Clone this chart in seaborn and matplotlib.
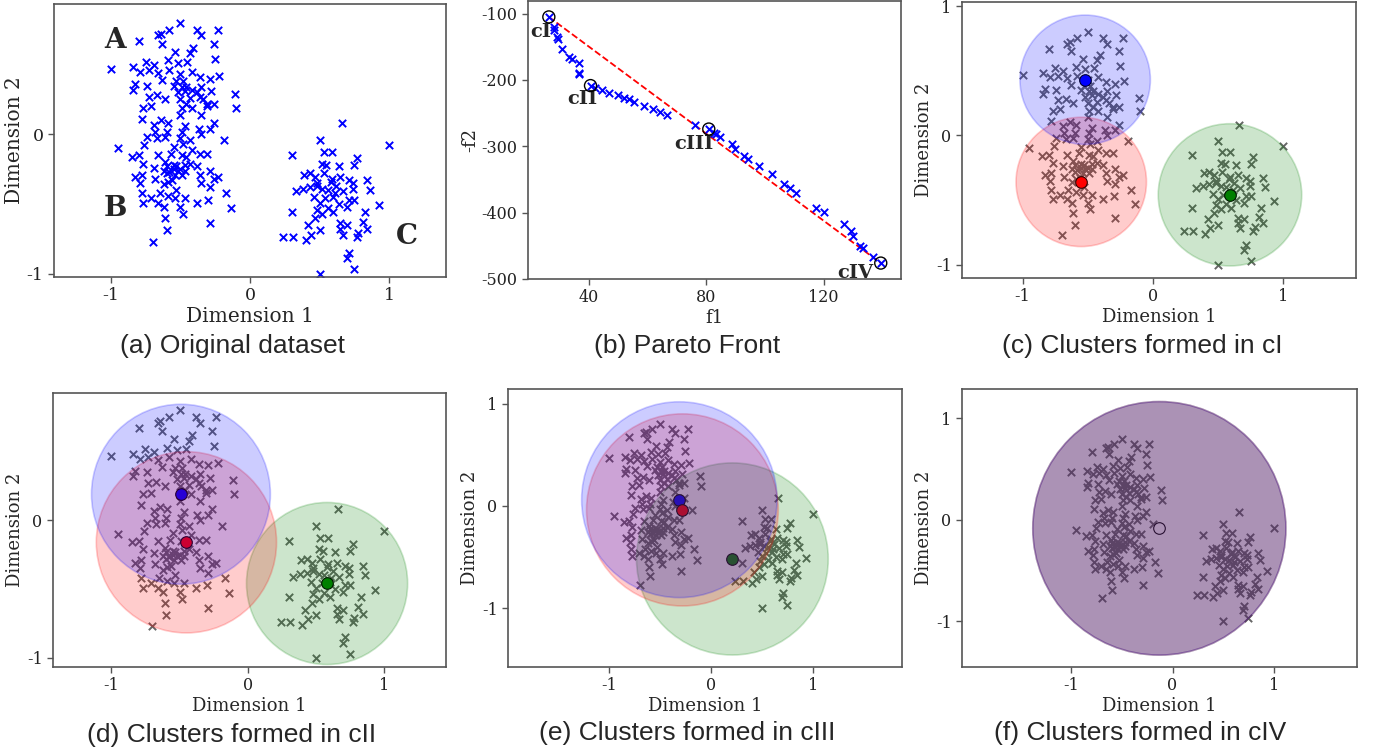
import numpy as np
import matplotlib
matplotlib.use("Agg")
import matplotlib.pyplot as plt
from matplotlib.patches import Circle
import seaborn as sns

sns.set_style("ticks")
plt.rcParams['font.family'] = ['DejaVu Serif']
plt.rcParams['axes.unicode_minus'] = False

# ---------------- data ----------------
# groups A/B (left blob)
ab_x = [-0.50,-0.23,-0.38,-0.35,-0.58,-0.64,-0.66,-0.80,-0.63,-0.26,
        -0.41,-0.54,-0.43,-0.25,-1.00,-0.84,-0.75,-0.69,-0.59,-0.52,
        -0.45,-0.79,-0.73,-0.66,-0.58,-0.50,-0.42,-0.36,-0.29,-0.22,
        -0.83,-0.84,-0.74,-0.63,-0.55,-0.48,-0.46,-0.35,-0.28,-0.11,
        -0.73,-0.67,-0.61,-0.52,-0.43,-0.36,-0.31,-0.26,-0.77,-0.71,
        -0.49,-0.42,-0.10,-0.50,-0.35,-0.78,-0.64,-0.69,-0.59,-0.47,
        -0.37,-0.26,-0.68,-0.60,-0.49,-0.35,-0.29,-0.74,-0.67,-0.61,
        -0.50,-0.43,-0.19,-0.95,-0.76,-0.55,-0.48,-0.42,-0.36,-0.31,
        -0.85,-0.80,-0.66,-0.57,-0.49,-0.46,-0.77,-0.69,-0.61,-0.55,
        -0.52,-0.47,-0.43,-0.38,-0.29,-0.23,-0.83,-0.78,-0.68,-0.60,
        -0.56,-0.49,-0.36,-0.26,-0.79,-0.62,-0.53,-0.35,-0.29,-0.78,
        -0.71,-0.65,-0.59,-0.54,-0.47,-0.17,-0.77,-0.66,-0.62,-0.50,
        -0.38,-0.30,-0.14,-0.48,-0.61,-0.29,-0.60,-0.70,
        -0.55,-0.53,-0.50,-0.58,-0.60,-0.54,-0.47,-0.62,-0.59,
        -0.53,-0.49,-0.47,-0.42,-0.38,-0.34,-0.31,-0.50,-0.46]
ab_y = [0.80,0.75,0.75,0.71,0.75,0.72,0.71,0.67,0.65,0.65,
        0.62,0.59,0.58,0.54,0.47,0.48,0.52,0.50,0.53,0.51,
        0.52,0.45,0.46,0.44,0.46,0.43,0.45,0.41,0.40,0.42,
        0.36,0.32,0.35,0.39,0.35,0.38,0.34,0.34,0.31,0.29,
        0.27,0.28,0.25,0.30,0.26,0.27,0.22,0.22,0.19,0.20,
        0.19,0.19,0.19,0.14,0.14,0.11,0.10,0.07,0.08,0.06,
        0.04,0.08,0.02,0.02,0.02,0.00,0.04,-0.02,-0.03,-0.02,
        -0.03,-0.04,-0.04,-0.10,-0.08,-0.09,-0.07,-0.11,-0.14,-0.14,
        -0.16,-0.15,-0.15,-0.14,-0.15,-0.16,-0.21,-0.24,-0.20,-0.22,
        -0.26,-0.22,-0.21,-0.23,-0.26,-0.31,-0.31,-0.29,-0.32,-0.28,
        -0.33,-0.29,-0.29,-0.32,-0.35,-0.36,-0.40,-0.35,-0.38,-0.42,
        -0.46,-0.42,-0.44,-0.46,-0.46,-0.42,-0.49,-0.49,-0.52,-0.52,
        -0.49,-0.47,-0.53,-0.57,-0.60,-0.64,-0.69,-0.77,
        -0.25,-0.23,-0.25,-0.27,-0.23,-0.29,-0.26,-0.26,-0.34,
        0.38,0.34,0.31,0.32,0.30,0.25,0.20,0.25,0.22]
# group C (right blob)
c_x = [0.66,0.50,1.00,0.30,0.53,0.59,0.77,0.52,0.55,0.64,
       0.75,0.39,0.43,0.47,0.53,0.59,0.65,0.74,0.84,0.33,
       0.38,0.48,0.52,0.56,0.62,0.67,0.74,0.86,0.46,0.54,
       0.60,0.71,0.75,0.93,0.30,0.48,0.52,0.60,0.70,0.83,
       0.47,0.65,0.70,0.81,0.42,0.50,0.65,0.84,0.44,0.24,
       0.31,0.40,0.67,0.78,0.77,0.71,0.70,0.75,0.50,
       0.48,0.58,0.61,0.50,0.64,0.56,0.43,0.71]
c_y = [0.08,-0.04,-0.08,-0.15,-0.13,-0.13,-0.17,-0.21,-0.22,-0.23,
       -0.22,-0.29,-0.28,-0.31,-0.28,-0.32,-0.31,-0.35,-0.33,-0.41,
       -0.39,-0.35,-0.39,-0.40,-0.37,-0.41,-0.39,-0.40,-0.45,-0.46,
       -0.45,-0.47,-0.47,-0.51,-0.56,-0.54,-0.57,-0.56,-0.52,-0.56,
       -0.60,-0.64,-0.65,-0.63,-0.65,-0.69,-0.68,-0.68,-0.72,-0.74,
       -0.74,-0.76,-0.72,-0.71,-0.74,-0.85,-0.89,-0.97,-1.00,
       -0.37,-0.34,-0.42,-0.49,-0.50,-0.53,-0.38,-0.33]

# Pareto front (f1, -f2)
pf_f1 = [26.4, 28.1, 28.3, 29.2, 29.4, 30.9, 33.3, 34.2, 36.6, 36.6, 36.8,
         40.6, 42.0, 44.5, 46.8, 50.0, 52.1, 53.8, 55.3, 58.8, 61.9, 64.4,
         66.7, 76.1, 80.9, 82.6, 83.5, 84.8, 88.8, 89.9, 93.0, 94.1, 98.1,
         102.4, 106.6, 108.7, 110.7, 117.3, 120.2, 127.0, 129.3, 130.2,
         132.5, 133.6, 137.0, 139.5]
pf_negf2 = [-105, -120, -124, -135, -139, -153, -165, -168, -174, -189, -191,
            -208.5, -211.6, -214.6, -219, -222, -226.6, -229, -233, -239.7,
            -244, -248, -253, -268, -274, -280, -282, -286, -297, -304.5,
            -315, -318.6, -329.6, -341.7, -356.8, -362.8, -369.8, -392.5,
            -399, -417.6, -428, -435, -450, -454, -466.8, -476]
sel_idx = [0, 11, 24, 45]
sel_names = ["cI", "cII", "cIII", "cIV"]

# cluster centroids / radii per solution; order: blue, red, green
cl_colors = ["blue", "red", "green"]
cI_cx = [-0.52, -0.55, 0.59];  cI_cy = [0.43, -0.36, -0.46];  cI_r = [0.50, 0.50, 0.55]
cII_cx = [-0.49, -0.45, 0.58]; cII_cy = [0.19, -0.16, -0.46]; cII_r = [0.655, 0.66, 0.59]
cIII_cx = [-0.31, -0.28, 0.21]; cIII_cy = [0.06, -0.04, -0.52]; cIII_r = [0.958, 0.94, 0.94]
cIV_cx = [-0.13, -0.13, -0.13]; cIV_cy = [-0.085, -0.085, -0.085]; cIV_r = [1.25, 1.25, 1.25]

all_x = np.array(ab_x + c_x)
all_y = np.array(ab_y + c_y)

# ---------------- figure ----------------
W, H = 1376, 753
fig = plt.figure(figsize=(W / 100, H / 100), dpi=100)

def add_ax(l, r, t, b):
    return fig.add_axes([l / W, 1 - b / H, (r - l) / W, (b - t) / H])

SP = '#555555'

def style(ax, lsize=11.5):
    for s in ax.spines.values():
        s.set_color(SP)
        s.set_linewidth(1.2)
        s.set_visible(True)
    ax.tick_params(colors='#222222', labelsize=lsize, length=4, width=1, direction='out')
    ax.tick_params(axis='both', color=SP)

def caption(x, y, text):
    fig.text(x / W, 1 - y / H, text, ha='center', va='center', fontsize=19,
             family='Liberation Sans')

# (a) Original dataset
ax = add_ax(54, 446, 4, 277)
sns.scatterplot(x=all_x, y=all_y, marker='x', color='blue', s=28, linewidth=1.4, ax=ax)
ax.set_xlim(-1.41, 1.41); ax.set_ylim(-1.024, 0.935)
ax.set_xticks([-1, 0, 1]); ax.set_yticks([-1, 0])
ax.set_xlabel("Dimension 1", fontsize=14.5, labelpad=2)
ax.set_ylabel("Dimension 2", fontsize=14.5, labelpad=2)
style(ax, 12.5)
for lab, px, py in [("A", -0.97, 0.67), ("B", -0.97, -0.53), ("C", 1.13, -0.73)]:
    ax.text(px, py, lab, fontsize=20, fontweight='bold', ha='center', va='center')
caption(232, 346, "(a) Original dataset")

# (b) Pareto front
ax = add_ax(528, 901, 1, 279)
sns.lineplot(x=[pf_f1[sel_idx[0]], pf_f1[sel_idx[-1]]],
             y=[pf_negf2[sel_idx[0]], pf_negf2[sel_idx[-1]]],
             color='red', linestyle='--', linewidth=1.3, ax=ax)
sns.scatterplot(x=pf_f1, y=pf_negf2, marker='x', color='blue', s=28, linewidth=1.4, ax=ax, zorder=3)
sx = [pf_f1[i] for i in sel_idx]; sy = [pf_negf2[i] for i in sel_idx]
sns.scatterplot(x=sx, y=sy, marker='o', s=75, facecolor='none', edgecolor='black',
                linewidth=1.0, ax=ax, zorder=4)
offs = [(-6, -11), (-6, -10), (-11, -11), (-18, -7)]
for name, xx, yy, off in zip(sel_names, sx, sy, offs):
    ax.annotate(name, (xx, yy), xytext=off, textcoords='offset points',
                ha='center', va='center', fontsize=14, fontweight='bold')
ax.set_xlim(19.3, 146.4); ax.set_ylim(-500, -81)
ax.set_xticks([40, 80, 120]); ax.set_yticks([-100, -200, -300, -400, -500])
ax.set_xlabel("f1", fontsize=13, labelpad=2)
ax.set_ylabel("-f2", fontsize=13, labelpad=2)
style(ax)
caption(687, 346, "(b) Pareto Front")

# cluster panels
def cluster_panel(rect, cx, cy, rr, xlim, ylim, yticks, cap, cappos, hollow=False):
    ax = add_ax(*rect)
    sns.scatterplot(x=all_x, y=all_y, marker='x', color='#666666', s=28, linewidth=1.4,
                    ax=ax, zorder=2)
    for i in range(3):
        fc = 'white' if hollow else cl_colors[i]
        sns.scatterplot(x=[cx[i]], y=[cy[i]], marker='o', s=70, color=fc,
                        edgecolor='black', linewidth=0.8, ax=ax, zorder=3)
        if hollow:
            break
    for i in [2, 1, 0]:
        ax.add_patch(Circle((cx[i], cy[i]), rr[i], facecolor=cl_colors[i],
                            edgecolor=cl_colors[i], alpha=0.2, linewidth=1.2, zorder=4 + (2 - i)))
    ax.set_xlim(*xlim); ax.set_ylim(*ylim)
    ax.set_xticks([-1, 0, 1]); ax.set_yticks(yticks)
    ax.set_xlabel("Dimension 1", fontsize=13, labelpad=2)
    ax.set_ylabel("Dimension 2", fontsize=13, labelpad=2)
    style(ax)
    caption(*cappos, cap)

cluster_panel((962, 1356, 2, 278), cI_cx, cI_cy, cI_r, (-1.464, 1.556), (-1.103, 1.031),
              [-1, 0, 1], "(c) Clusters formed in cI", (1142, 346))
cluster_panel((53, 446, 393, 667), cII_cx, cII_cy, cII_r, (-1.427, 1.451), (-1.068, 0.927),
              [-1, 0], "(d) Clusters formed in cII", (232, 735))
cluster_panel((508, 902, 389, 667), cIII_cx, cIII_cy, cIII_r, (-1.99, 1.873), (-1.577, 1.143),
              [-1, 0, 1], "(e) Clusters formed in cIII", (687, 733))
cluster_panel((962, 1357, 389, 667), cIV_cx, cIV_cy, cIV_r, (-2.079, 1.822), (-1.452, 1.289),
              [-1, 0, 1], "(f) Clusters formed in cIV", (1140, 733), hollow=True)

fig.savefig("out.png", dpi=100)
